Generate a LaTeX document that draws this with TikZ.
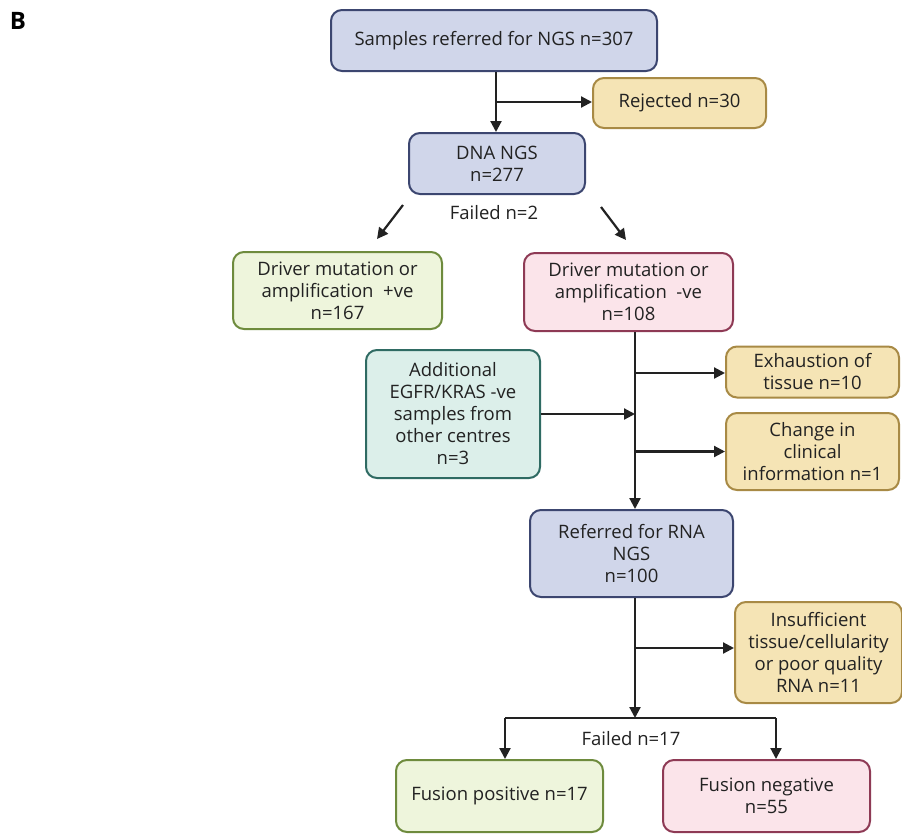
\documentclass[tikz,border=0pt]{standalone}
\usepackage{fontspec}
\setmainfont{Open Sans}
\usetikzlibrary{arrows.meta}
\definecolor{txt}{HTML}{222222}
\definecolor{bluef}{HTML}{D0D6EA}\definecolor{blued}{HTML}{3C4670}
\definecolor{yelf}{HTML}{F5E4B5}\definecolor{yeld}{HTML}{A88A45}
\definecolor{grnf}{HTML}{EEF5DC}\definecolor{grnd}{HTML}{6E8B3D}
\definecolor{pnkf}{HTML}{FBE4EA}\definecolor{pnkd}{HTML}{8E3A55}
\definecolor{tealf}{HTML}{DCEFEA}\definecolor{teald}{HTML}{2F6B63}
\tikzset{
  box/.style={draw, line width=2pt, rounded corners=11pt, align=center, inner sep=0pt,
    text=txt, font=\fontsize{18.5}{22}\selectfont},
  bluebox/.style={box, fill=bluef, draw=blued},
  yelbox/.style={box, fill=yelf, draw=yeld},
  grnbox/.style={box, fill=grnf, draw=grnd},
  pnkbox/.style={box, fill=pnkf, draw=pnkd},
  tealbox/.style={box, fill=tealf, draw=teald},
  arr/.style={draw=txt, line width=2.2pt, -{Triangle[length=11pt,width=11pt]}},
  ln/.style={draw=txt, line width=2.2pt},
  lbl/.style={text=txt, font=\fontsize{18.5}{22}\selectfont, inner sep=0pt}
}
\begin{document}
\begin{tikzpicture}[x=1pt,y=-1pt]
\useasboundingbox (0,0) rectangle (902,833);
\fill[white] (0,0) rectangle (902,833);
\node[font=\fontsize{24}{28}\selectfont\bfseries, text=black, inner sep=0pt] (B) at (18,21) {B};
% nodes
\node[bluebox, minimum width=326pt, minimum height=61pt] (top) at (494,40.5) {Samples referred for NGS n=307};
\node[yelbox, minimum width=173pt, minimum height=50pt] (rej) at (679.5,103) {Rejected n=30};
\node[bluebox, minimum width=176pt, minimum height=61pt] (dna) at (497,163.5) {DNA NGS\\n=277};
\node[lbl] (f2) at (494,213) {Failed n=2};
\node[grnbox, minimum width=209pt, minimum height=77pt] (pos) at (337.5,290.5) {Driver mutation or\\amplification~ +ve\\n=167};
\node[pnkbox, minimum width=209pt, minimum height=78pt] (neg) at (628.5,292) {Driver mutation or\\amplification~ -ve\\n=108};
\node[yelbox, minimum width=173pt, minimum height=51pt] (exh) at (812.5,372) {Exhaustion of\\tissue n=10};
\node[tealbox, minimum width=174pt, minimum height=128pt] (add) at (453,414) {Additional\\EGFR/KRAS -ve\\samples from\\other centres\\n=3};
\node[yelbox, minimum width=173pt, minimum height=77pt] (chg) at (812.5,451.5) {Change in\\clinical\\information n=1};
\node[bluebox, minimum width=203pt, minimum height=87pt] (rna) at (631.5,553.5) {Referred for RNA\\NGS\\n=100};
\node[yelbox, minimum width=167pt, minimum height=101pt] (ins) at (818.5,652.5) {Insufficient\\tissue/cellularity\\or poor quality\\RNA n=11};
\node[lbl] (f17) at (631,739) {Failed n=17};
\node[grnbox, minimum width=207pt, minimum height=72pt] (fp) at (499.5,796) {Fusion positive n=17};
\node[pnkbox, minimum width=207pt, minimum height=72pt] (fn) at (766.5,796) {Fusion negative\\n=55};
% coordinates
\coordinate (c0) at (496,0);
\coordinate (b1) at (496,102);
\coordinate (sp) at (635,0);
\coordinate (split) at (635,718);
\coordinate (sl) at (505,718);
\coordinate (sr) at (776,718);
\coordinate (dl1) at (403,205); \coordinate (dl2) at (377,239);
\coordinate (dr1) at (601,207); \coordinate (dr2) at (626,240);
% connectors
\draw[arr] (top.south -| c0) -- (dna.north -| c0);
\draw[arr] (b1) -- (b1 -| rej.west);
\draw[arr] (dl1) -- (dl2);
\draw[arr] (dr1) -- (dr2);
\draw[arr] (neg.south -| sp) -- (rna.north -| sp);
\draw[arr] (sp |- 0,373) -- (exh.west |- 0,373);
\draw[arr] (add.east) -- (sp |- add.east);
\draw[arr] (sp |- chg.west) -- (chg.west);
\draw[ln] (sl) -- (sr);
\draw[arr] (rna.south -| sp) -- (split);
\draw[arr] (sp |- 0,648) -- (ins.west |- 0,648);
\draw[arr] (sl) -- (sl |- fp.north);
\draw[arr] (sr) -- (sr |- fn.north);
\end{tikzpicture}
\end{document}
